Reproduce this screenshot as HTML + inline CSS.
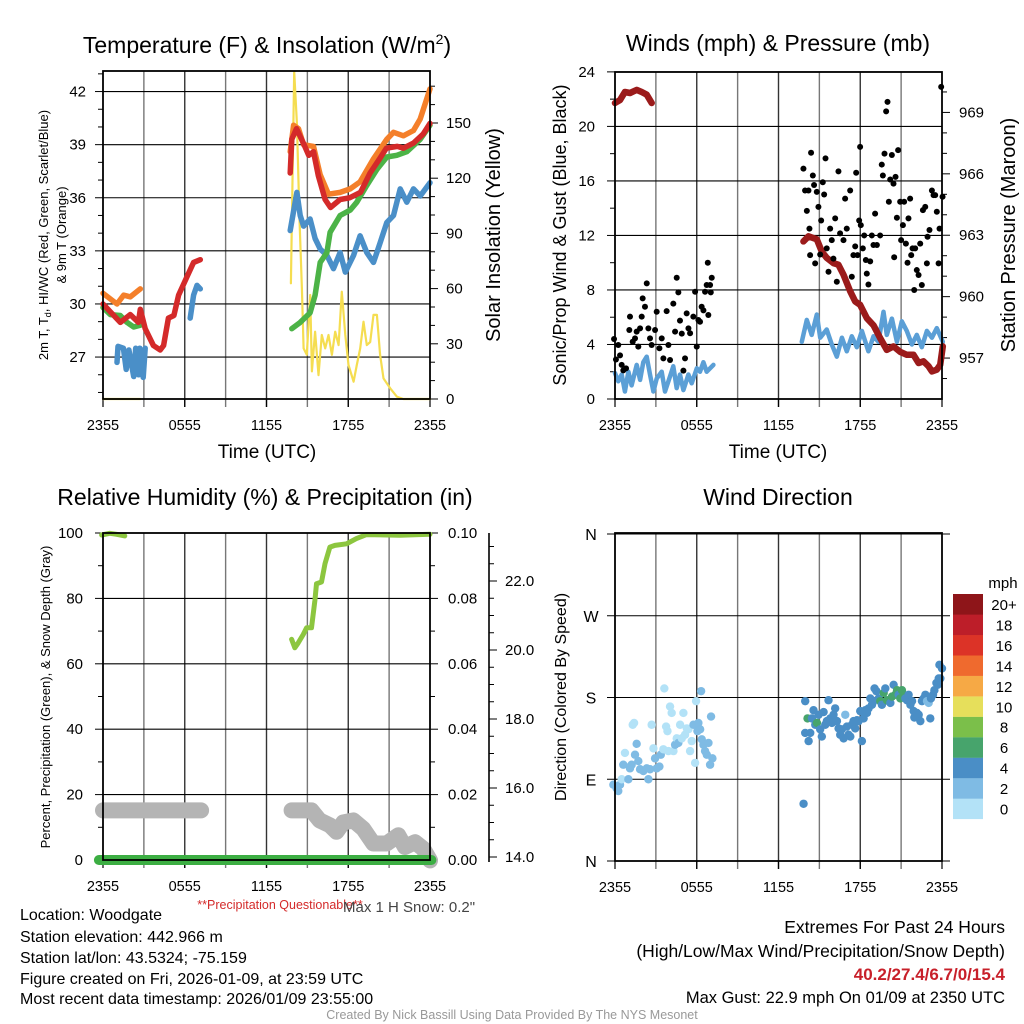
<!DOCTYPE html>
<html><head><meta charset="utf-8"><style>
html,body{margin:0;padding:0;background:#fff;}
svg{display:block;font-family:"Liberation Sans",sans-serif;}
</style></head><body>
<svg id="fig" xmlns="http://www.w3.org/2000/svg" width="1024" height="1024" viewBox="0 0 1024 1024">
<rect width="1024" height="1024" fill="#fff"/>
<text x="267" y="53" font-size="23" text-anchor="middle">Temperature (F) &amp; Insolation (W/m<tspan dy="-9" font-size="14">2</tspan><tspan dy="9">)</tspan></text>
<text x="778" y="51" font-size="23" text-anchor="middle">Winds (mph) &amp; Pressure (mb)</text>
<text x="265" y="505" font-size="23" text-anchor="middle">Relative Humidity (%) &amp; Precipitation (in)</text>
<text x="778" y="505" font-size="23" text-anchor="middle">Wind Direction</text>
<text x="267" y="458" font-size="19" text-anchor="middle">Time (UTC)</text>
<text x="778" y="458" font-size="19" text-anchor="middle">Time (UTC)</text>
<text transform="translate(48,235) rotate(-90)" font-size="13" text-anchor="middle">2m T, T<tspan font-size="9" dy="3">d</tspan><tspan dy="-3">, HI/WC (Red, Green, Scarlet/Blue)</tspan></text>
<text transform="translate(66,235) rotate(-90)" font-size="13" text-anchor="middle">&amp; 9m T (Orange)</text>
<text transform="translate(500,235) rotate(-90)" font-size="20" text-anchor="middle">Solar Insolation (Yellow)</text>
<text transform="translate(566,235) rotate(-90)" font-size="18" text-anchor="middle">Sonic/Prop Wind &amp; Gust (Blue, Black)</text>
<text transform="translate(1015,235) rotate(-90)" font-size="20" text-anchor="middle">Station Pressure (Maroon)</text>
<text transform="translate(50,697) rotate(-90)" font-size="13" text-anchor="middle">Percent, Precipitation (Green), &amp; Snow Depth (Gray)</text>
<text transform="translate(566,697) rotate(-90)" font-size="16" text-anchor="middle">Direction (Colored By Speed)</text>
<text x="280" y="909" font-size="12.5" fill="#d42a2a" text-anchor="middle">**Precipitation Questionable**</text>
<text x="343" y="912" font-size="15" fill="#444">Max 1 H Snow: 0.2"</text>
<g font-size="16" fill="#000">
<text x="20" y="920">Location: Woodgate</text>
<text x="20" y="942">Station elevation: 442.966 m</text>
<text x="20" y="963">Station lat/lon: 43.5324; -75.159</text>
<text x="20" y="984">Figure created on Fri, 2026-01-09, at 23:59 UTC</text>
<text x="20" y="1004">Most recent data timestamp: 2026/01/09 23:55:00</text>
<text x="1005" y="933" text-anchor="end" font-size="17.5">Extremes For Past 24 Hours</text>
<text x="1005" y="957" text-anchor="end" font-size="17.5">(High/Low/Max Wind/Precipitation/Snow Depth)</text>
<text x="1005" y="980" text-anchor="end" font-size="17" font-weight="bold" fill="#c8202a">40.2/27.4/6.7/0/15.4</text>
<text x="1005" y="1003" text-anchor="end" font-size="16.5">Max Gust: 22.9 mph On 01/09 at 2350 UTC</text>
</g>
<text x="512" y="1019" text-anchor="middle" font-size="12.5" fill="#999">Created By Nick Bassill Using Data Provided By The NYS Mesonet</text>
</svg>
<script>
// ---------- data (time = hours after 2355 UTC) ----------
const timeTickLabels = ["2355","0555","1155","1755","2355"];
const tempTicks = [27,30,33,36,39,42];
const insolTicks = [0,30,60,90,120,150];
const windTicks = [0,4,8,12,16,20,24];
const pressTicks = [957,960,963,966,969];
const rhTicks = [0,20,40,60,80,100];
const precipTicks = ["0.00","0.02","0.04","0.06","0.08","0.10"];
const snowTicks = ["14.0","16.0","18.0","20.0","22.0"];
const dirLabels = ["N","E","S","W","N"];
const speedBins = ["0","2","4","6","8","10","12","14","16","18","20+"];

const redT1 = [0,1.27,2.0,2.6,2.74,3.1,3.7,4.2,4.45,4.8,5.2,5.55,6.2,6.65,7.14];
const redV1 = [30.0,28.96,29.4,28.96,29.7,28.6,27.65,27.4,27.65,29.2,29.35,30.5,31.6,32.35,32.5];
const redT2 = [13.74,13.86,14.2,14.7,15.1,15.45,15.8,16.3,16.7,17.4,18.1,18.9,19.6,20.3,20.8,21.6,22.05,22.8,23.5,24];
const redV2 = [37.4,39.3,39.9,39.1,38.4,38.6,37.25,35.9,35.45,35.9,36.0,36.3,37.4,38.2,38.8,38.9,38.8,39.1,39.6,40.2];
const orgT1 = [0,1.03,1.52,2.0,2.74];
const orgV1 = [30.6,30.0,30.5,30.4,30.85];
const orgT2 = [13.74,13.99,14.35,14.72,15.45,15.94,16.55,17.4,18.14,18.87,19.85,20.83,21.32,22.05,22.79,23.28,24];
const orgV2 = [38.6,40.1,39.9,39.0,38.9,37.3,36.2,36.3,36.5,36.9,38.2,39.3,39.7,39.5,39.8,40.45,42.15];
const grnT1 = [0,0.54,1.27,1.76,2.25,2.74];
const grnV1 = [29.8,29.4,29.35,28.96,28.7,28.8];
const grnT2 = [13.86,14.47,15.2,15.57,15.94,16.43,16.67,17.4,18.14,18.63,19.36,20.1,20.83,21.56,22.3,23.28,24];
const grnV2 = [28.6,28.96,29.5,30.5,32.35,32.9,34.05,35.0,35.3,35.75,36.7,37.6,38.3,38.4,38.6,39.3,40.1];
const bluT1 = [1.03,1.1,1.5,1.7,1.9,2.25,2.4,2.6,2.7,2.95,3.1];
const bluV1 = [26.7,27.6,27.5,26.3,27.4,25.9,27.5,26.0,27.5,25.85,27.5];
const bluT2 = [6.4,6.65,6.9,7.14];
const bluV2 = [29.2,30.5,31.05,30.85];
const bluT3 = [13.74,14.23,14.47,14.72,15.2,15.57,15.94,16.43,16.92,17.4,17.78,18.39,18.87,19.36,19.85,20.34,20.83,21.32,21.81,22.3,22.79,23.28,24];
const bluV3 = [34.15,36.3,35.0,34.4,34.8,33.7,33.1,32.75,32.0,32.9,31.8,32.75,33.85,32.9,32.35,33.45,34.6,35.0,36.5,35.75,36.5,36.1,36.85];
const solT1 = [0,2.74];
const solV1 = [0,0];
const solT2 = [13.79,14.03,14.23,14.43,14.6,14.72,14.96,15.21,15.33,15.57,15.82,16.06,16.31,16.55,16.8,17.04,17.29,17.53,17.78,18.02,18.39,18.63,18.88,19.12,19.36,19.61,19.85,20.1,20.34,20.59,21.08,21.56,22.05,24];
const solV2 = [62.9,178,150,96,60,27.5,24,56.5,15,36.6,13,34.8,27.5,34.8,24,36.6,29.3,58.3,34.8,18.5,9.4,18.5,27.5,42,29.3,31,45.7,45.7,24,11.2,5.8,1.3,0,0];

const presT1 = [0,0.37,0.73,1.1,1.59,1.96,2.33,2.69];
const presV1 = [969.46,969.6,970.0,969.95,970.1,970.0,969.87,969.46];
const presT2 = [13.83,14.2,14.81,15.18,15.54,16.03,16.4,16.77,17.26,17.63,17.99,18.48,18.97,19.46,19.95,20.44,20.93,21.42,21.91,22.28,22.64,23.01,23.26,23.62,23.87,24.06];
const presV2 = [962.7,962.95,962.8,962.2,961.9,961.64,961.56,961.07,960.26,959.77,959.6,958.95,958.6,957.98,957.4,957.57,957.3,957.16,957.16,956.76,956.84,956.6,956.35,956.43,956.67,957.57];
const windT1 = [0,0.24,0.49,0.73,0.98,1.22,1.59,1.84,2.08,2.33,2.57,2.82,3.06,3.43,3.67,3.92,4.28,4.53,4.77,5.02,5.39,5.63,6.0,6.24,6.49,6.73,7.22];
const windV1 = [1.9,1.3,1.8,0.55,2.0,1.0,2.5,1.4,2.7,3.1,1.8,0.55,1.5,2.0,0.55,1.3,2.4,0.8,1.8,0.65,1.8,1.15,2.25,2.0,2.7,2.0,2.5];
const windT2 = [13.71,14.08,14.44,14.81,15.06,15.54,15.91,16.28,16.65,17.01,17.38,17.75,18.12,18.6,18.97,19.34,19.71,19.95,20.32,20.69,21.05,21.42,21.79,22.15,22.52,22.89,23.26,23.62,24.06];
const windV2 = [4.2,5.8,4.7,6.2,4.5,5.1,4.0,3.1,4.5,3.5,4.6,3.8,5.0,3.5,4.6,4.2,6.4,4.7,5.9,4.2,5.7,5.0,4.0,4.7,3.8,5.0,4.5,5.2,4.2];
const gustT = [-0.07,0.07,0.24,0.37,0.49,0.61,0.81,1.05,1.1,1.3,1.47,1.59,1.71,1.84,1.96,2.03,2.2,2.33,2.45,2.57,2.69,2.94,3.06,3.26,3.43,3.55,3.79,3.92,4.04,4.28,4.41,4.53,4.65,4.77,4.9,5.02,5.14,5.26,5.39,5.51,5.75,5.88,6.0,6.12,6.24,6.36,6.49,6.61,6.73,6.81,6.85,6.98,7.03,7.1,
13.83,13.95,14.08,14.2,14.27,14.32,14.39,14.52,14.61,14.69,14.81,14.93,15.06,15.13,15.25,15.35,15.45,15.54,15.67,15.79,15.91,16.03,16.16,16.28,16.4,16.52,16.77,16.89,17.01,17.26,17.38,17.5,17.63,17.7,17.8,17.92,17.99,18.04,18.19,18.29,18.41,18.48,18.6,18.73,18.85,18.97,19.09,19.22,19.46,19.58,19.66,19.78,19.9,20.0,20.1,20.2,20.32,20.44,20.49,20.59,20.69,20.78,20.93,21.0,21.13,21.22,21.35,21.47,21.54,21.66,21.74,21.84,21.96,22.03,22.15,22.28,22.4,22.52,22.6,22.77,22.89,22.94,23.08,23.26,23.38,23.5,23.62,23.75,23.82,23.94,24.04];
const gustV = [4.4,2.9,3.96,3.2,2.5,2.1,2.25,5.06,6.04,4.2,4.45,4.94,3.84,5.18,6.04,7.38,6.77,8.48,5.18,4.45,3.96,5.06,6.4,3.72,4.45,2.98,6.45,3.96,2.86,7.0,4.94,8.9,7.82,5.75,4.8,2.08,2.98,6.28,5.18,4.82,6.04,7.87,3.84,5.8,5.67,6.77,6.5,7.87,8.36,10.0,6.16,8.36,7.82,8.9,
16.9,15.3,13.8,15.3,12.5,10.56,18.07,16.4,15.7,9.95,15.2,14.1,10.6,13.1,15.9,15.0,17.65,11.05,9.34,12.5,11.66,10.3,13.25,8.6,16.7,12.15,11.66,14.7,12.5,15.3,8.97,10.56,11.2,16.6,10.56,13.1,18.5,12.76,11.05,12.0,10.2,9.2,8.4,10.1,12.0,11.3,13.6,11.3,12.0,17.2,16.4,18.0,21.1,21.8,14.47,16.1,17.9,15.8,10.4,16.3,13.3,18.26,14.47,11.66,12.76,14.47,11.4,10.0,13.25,14.7,10.56,11.05,8.0,11.05,9.46,9.1,11.4,8.36,13.86,14.1,9.95,11.9,12.4,15.3,14.96,14.96,13.74,9.95,12.5,22.9,14.84];

const rhT1 = [-0.1,0.5,1.0,1.6];
const rhV1 = [99.4,99.9,99.6,99.1];
const rhT2 = [13.84,14.08,14.33,14.7,14.94,15.3,15.55,15.67,16.04,16.29,16.65,17.02,17.88,18.6,19.35,21.8,24];
const rhV2 = [67.5,64.9,66.4,69,71,71,79.4,84.5,85,90.6,95.7,96.2,96.7,98.3,99.5,99.3,99.6];
const precipT = [-0.3,24.1];
const precipV = [0,0];
const snowT1 = [0,7.2];
const snowV1 = [15.35,15.35];
const snowT2 = [13.84,15.3,15.9,16.65,17.14,17.63,18.37,19.1,19.84,20.82,21.67,22.16,22.9,23.5,24];
const snowV2 = [15.35,15.35,15.06,14.92,14.73,15.0,15.06,14.82,14.39,14.39,14.63,14.29,14.43,14.24,13.9];

const dirT = [-0.12,0.12,0.24,0.37,0.49,0.61,0.73,0.98,1.1,1.22,1.3,1.4,1.47,1.59,1.71,1.84,2.08,2.33,2.45,2.57,2.69,2.82,2.94,3.06,3.26,3.36,3.55,3.62,3.75,3.85,3.92,4.04,4.16,4.29,4.41,4.53,4.65,4.78,4.9,5.02,5.14,5.27,5.39,5.51,5.63,5.76,5.88,5.95,6.05,6.12,6.25,6.32,6.37,6.49,6.61,6.74,6.86,6.98,7.05,7.15,
13.84,13.96,13.96,14.13,14.21,14.33,14.45,14.57,14.7,14.82,14.94,15.06,15.18,15.31,15.43,15.55,15.67,15.8,15.92,16.04,16.16,16.29,16.41,16.53,16.65,16.78,16.9,17.02,17.14,17.27,17.39,17.51,17.63,17.76,17.88,18.0,18.12,18.25,18.37,18.49,18.61,18.74,18.86,18.98,19.05,19.18,19.35,19.47,19.59,19.72,19.84,19.96,20.08,20.21,20.33,20.45,20.57,20.7,20.82,20.94,21.06,21.19,21.31,21.43,21.55,21.68,21.8,21.92,21.97,22.16,22.29,22.41,22.53,22.65,22.78,22.9,23.02,23.14,23.19,23.34,23.44,23.59,23.68,23.76,23.88,23.81,24.0];
const dirV = [84,80,77,84,90,106,119,90,102,106,150,152,117,129,110,101,99,102,90,101,150,124,113,102,104,117,123,190,148,143,121,170,163,121,128,135,130,150,135,163,139,146,145,121,132,150,108,176,143,152,145,187,134,128,121,117,130,106,159,113,
63,176,141,157,132,141,157,166,150,152,161,145,137,164,150,154,177,157,152,161,168,154,146,139,145,135,161,148,139,137,150,154,146,155,154,165,132,157,166,163,168,179,172,176,190,187,179,176,172,185,190,177,176,174,181,194,183,188,183,179,188,183,179,177,183,172,176,165,158,163,161,154,176,179,183,176,174,157,179,183,188,196,194,201,201,216,212];
const dirSpd = [2.5,2.5,2.5,2.5,1,2.5,1,2.5,2.5,2.5,1,1,2.5,2.5,2.5,2.5,2.5,2.5,2.5,2.5,1,1,2.5,2.5,2.5,2.5,1,1,1,1,1,1,1,1,2.5,1,2.5,1,1,1,1,1,1,1,1,2.5,1,1,2.5,2.5,2.5,2.5,2.5,2.5,2.5,2.5,2.5,2.5,2.5,2.5,
4.5,4.5,4.5,6.5,4.5,4.5,4.5,4.5,4.5,6.5,4.5,4.5,4.5,4.5,4.5,4.5,4.5,4.5,4.5,4.5,4.5,4.5,4.5,4.5,4.5,4.5,2.5,4.5,4.5,4.5,4.5,4.5,4.5,4.5,4.5,4.5,4.5,4.5,4.5,4.5,4.5,4.5,4.5,4.5,4.5,4.5,4.5,6.5,4.5,6.5,4.5,6.5,6.5,4.5,6.5,4.5,6.5,6.5,4.5,6.5,6.5,6.5,4.5,4.5,4.5,4.5,4.5,4.5,4.5,4.5,4.5,4.5,4.5,4.5,4.5,2.5,2.5,4.5,4.5,4.5,4.5,4.5,4.5,4.5,4.5,4.5,4.5];

// ---------- rendering ----------
const NS = "http://www.w3.org/2000/svg";
const svg = document.getElementById('fig');
function el(tag, a, parent){const e=document.createElementNS(NS,tag);for(const k in a)e.setAttribute(k,a[k]);(parent||svg).appendChild(e);return e;}
const binColors = ["#b3e2f7","#7fbbe4","#4a8ec6","#47a46c","#7bbf4a","#e6df5b","#f6a945","#ef6a2e","#dc3327","#bd1e29","#8e1519"];

const P = {
  tl:{x0:103,x1:430,y0:71,y1:399},
  tr:{x0:615,x1:942,y0:72,y1:399},
  bl:{x0:103,x1:430,y0:533,y1:860},
  br:{x0:615,x1:942,y0:533,y1:861}
};
function xs(p){return t=>p.x0+t*(p.x1-p.x0)/24;}
const tx=xs(P.tl), wx=xs(P.tr), hx=xs(P.bl), dx=xs(P.br);
const ty=v=>399-(v-24.63)*17.7, iy=v=>399-v*1.84;
const wy=v=>399-v*13.63, py=v=>399-(v-955)*20.47;
const hy=v=>860-v*3.27, sy=v=>857-(v-14)*34.5;
const dy=v=>861-v*0.9083;

function grid(p, key){
  const g=el('g',{});
  
  
  for(let i=1;i<8;i++){
    const x=p.x0+i*(p.x1-p.x0)/8;
    const l=el('line',{x1:x,x2:x,y1:p.y0,y2:p.y1+8,stroke:i%2?"#777":"#333","stroke-width":1.4},g);
    
    
  }
  timeTickLabels.forEach((s,i)=>{
    const x=p.x0+i*(p.x1-p.x0)/4;
    const tk=el('line',{x1:x,x2:x,y1:p.y1,y2:p.y1+8,stroke:"#000","stroke-width":1.2},g);
    
    
    const t=el('text',{x:x,y:p.y1+31,"font-size":14.5,"text-anchor":"middle"},g);
    t.textContent=s;
    
    
  });
}
function hline(y,x0,x1,name,color){
  const l=el('line',{x1:x0,x2:x1,y1:y,y2:y,stroke:color||"#000","stroke-width":1.1});
  
  
}
function label(x,y,s,anchor,name,size){
  const t=el('text',{x:x,y:y,"font-size":size||15,"text-anchor":anchor});
  t.textContent=s;
  
  
}
function frame(p,key){
  const r=el('rect',{x:p.x0,y:p.y0,width:p.x1-p.x0,height:p.y1-p.y0,fill:"none",stroke:"#000","stroke-width":1.8});
  
  
}
function line(T,V,fx,fy,color,w,name,cap){
  const d=T.map((t,i)=>(i?'L':'M')+fx(t).toFixed(1)+' '+fy(V[i]).toFixed(1)).join('');
  const e=el('path',{d:d,fill:"none",stroke:color,"stroke-width":w,"stroke-linejoin":"round","stroke-linecap":cap||"round"});
  
  
}

// ---- Top-left: temperature ----
let p=P.tl;
grid(p,'temp');
for(let v=25;v<=43;v++){const y=ty(v);const mj=tempTicks.includes(v);
  const k=el('line',{x1:p.x0-(mj?8:5),x2:p.x0,y1:y,y2:y,stroke:"#000","stroke-width":1});
  
  }
tempTicks.forEach(v=>{hline(ty(v),p.x0,p.x1,'temp-gridline');label(p.x0-17,ty(v)+5,String(v),'end','temp-y-tick-label');});
for(let v=0;v<=170;v+=10){const y=iy(v);const mj=v%30===0;
  const k=el('line',{x1:p.x1,x2:p.x1+(mj?8:5),y1:y,y2:y,stroke:"#000","stroke-width":1});
  
  }
insolTicks.forEach(v=>label(p.x1+16,iy(v)+5,String(v),'start','insolation-tick-label'));
line(solT1,solV1,tx,iy,"#f5dd50",2.2,'insolation-line-1');
line(solT2,solV2,tx,iy,"#f5dd50",2.2,'insolation-line-2');
line(bluT1,bluV1,tx,ty,"#4a8fc8",5.5,'windchill-line-1');
line(bluT2,bluV2,tx,ty,"#4a8fc8",5.5,'windchill-line-2');
line(bluT3,bluV3,tx,ty,"#4a8fc8",5.5,'windchill-line-3');
line(grnT1,grnV1,tx,ty,"#4cb347",5.5,'dewpoint-line-1');
line(grnT2,grnV2,tx,ty,"#4cb347",5.5,'dewpoint-line-2');
line(orgT1,orgV1,tx,ty,"#f47f2a",5.5,'temp-9m-line-1');
line(orgT2,orgV2,tx,ty,"#f47f2a",5.5,'temp-9m-line-2');
line(redT1,redV1,tx,ty,"#d42a2a",5.5,'temp-2m-line-1');
line(redT2,redV2,tx,ty,"#d42a2a",5.5,'temp-2m-line-2');
frame(p,'temp');

// ---- Top-right: winds ----
p=P.tr;
grid(p,'winds');
for(let v=0;v<=24;v+=2){const y=wy(v);const mj=v%4===0;
  const k=el('line',{x1:p.x0-(mj?8:5),x2:p.x0,y1:y,y2:y,stroke:"#000","stroke-width":1});
  
  }
windTicks.forEach(v=>{hline(wy(v),p.x0,p.x1,'wind-gridline');label(p.x0-20,wy(v)+5,String(v),'end','wind-y-tick-label');});
for(let v=956;v<=970;v++){const y=py(v);const mj=pressTicks.includes(v);
  const k=el('line',{x1:p.x1,x2:p.x1+(mj?8:5),y1:y,y2:y,stroke:"#000","stroke-width":1});
  
  }
pressTicks.forEach(v=>label(p.x1+17,py(v)+5,String(v),'start','pressure-tick-label'));
line(windT1,windV1,wx,wy,"#5b9fd6",4.5,'sonic-wind-line-1');
line(windT2,windV2,wx,wy,"#5b9fd6",4.5,'sonic-wind-line-2');
line(presT1,presV1,wx,py,"#9b1b1b",6.5,'pressure-line-1');
line(presT2,presV2,wx,py,"#9b1b1b",6.5,'pressure-line-2');
gustT.forEach((t,i)=>{
  const c=el('circle',{cx:wx(t),cy:wy(gustV[i]),r:3,fill:"#000"});
  
  
});
frame(p,'winds');

// ---- Bottom-left: humidity ----
p=P.bl;
grid(p,'humidity');
for(let v=0;v<=100;v+=10){const y=hy(v);const mj=v%20===0;
  const k=el('line',{x1:p.x0-(mj?8:5),x2:p.x0,y1:y,y2:y,stroke:"#000","stroke-width":1});
  
  
  const k2=el('line',{x1:p.x1,x2:p.x1+(mj?8:5),y1:y,y2:y,stroke:"#000","stroke-width":1});
  
  }
rhTicks.forEach((v,i)=>{hline(hy(v),p.x0,p.x1,'humidity-gridline');label(p.x0-20,hy(v)+5,String(v),'end','humidity-tick-label');
  label(p.x1+18,hy(v)+5,precipTicks[i],'start','precip-tick-label');});
const sa=el('line',{x1:489,x2:489,y1:533,y2:862,stroke:"#000","stroke-width":1.6});


for(let v=14;v<=23.01;v+=0.5){const y=sy(v);const mj=Math.abs(v-Math.round(v/2)*2)<0.01;
  const k=el('line',{x1:489,x2:489+(mj?8:5),y1:y,y2:y,stroke:"#000","stroke-width":1});
  
  }
snowTicks.forEach(s=>label(505,sy(parseFloat(s))+5,s,'start','snow-depth-tick-label'));
line(snowT1,snowV1,hx,sy,"#b4b4b4",16,'snow-depth-line-1');
line(snowT2,snowV2,hx,sy,"#b4b4b4",16,'snow-depth-line-2');
line(precipT,precipV,hx,v=>860-v*3270,"#3cae43",10,'precipitation-line');
line(rhT1,rhV1,hx,hy,"#8cc63f",5,'humidity-line-1');
line(rhT2,rhV2,hx,hy,"#8cc63f",5,'humidity-line-2');
frame(p,'humidity');

// ---- Bottom-right: wind direction ----
p=P.br;
grid(p,'direction');
dirLabels.forEach((s,i)=>{const y=dy(i*90);
  hline(y,p.x0-8,p.x1+8,'direction-gridline');
  label(591,y+6,s,'middle','direction-tick-label',16);});
dirT.forEach((t,i)=>{
  const bi=Math.min(10,Math.floor(dirSpd[i]/2));
  const c=el('circle',{cx:dx(t),cy:dy(dirV[i]),r:4.2,fill:binColors[bi]});
  
  
});
frame(p,'direction');
label(1003,588,'mph','middle','speed-legend-title',15);
speedBins.forEach((s,i)=>{
  const j=10-i; const y=594+j*20.45;
  const r=el('rect',{x:953,y:y,width:30,height:20.6,fill:binColors[i]});
  
  
  label(1004,y+16,s,'middle','speed-legend-label',15);
});
</script>
</body></html>
